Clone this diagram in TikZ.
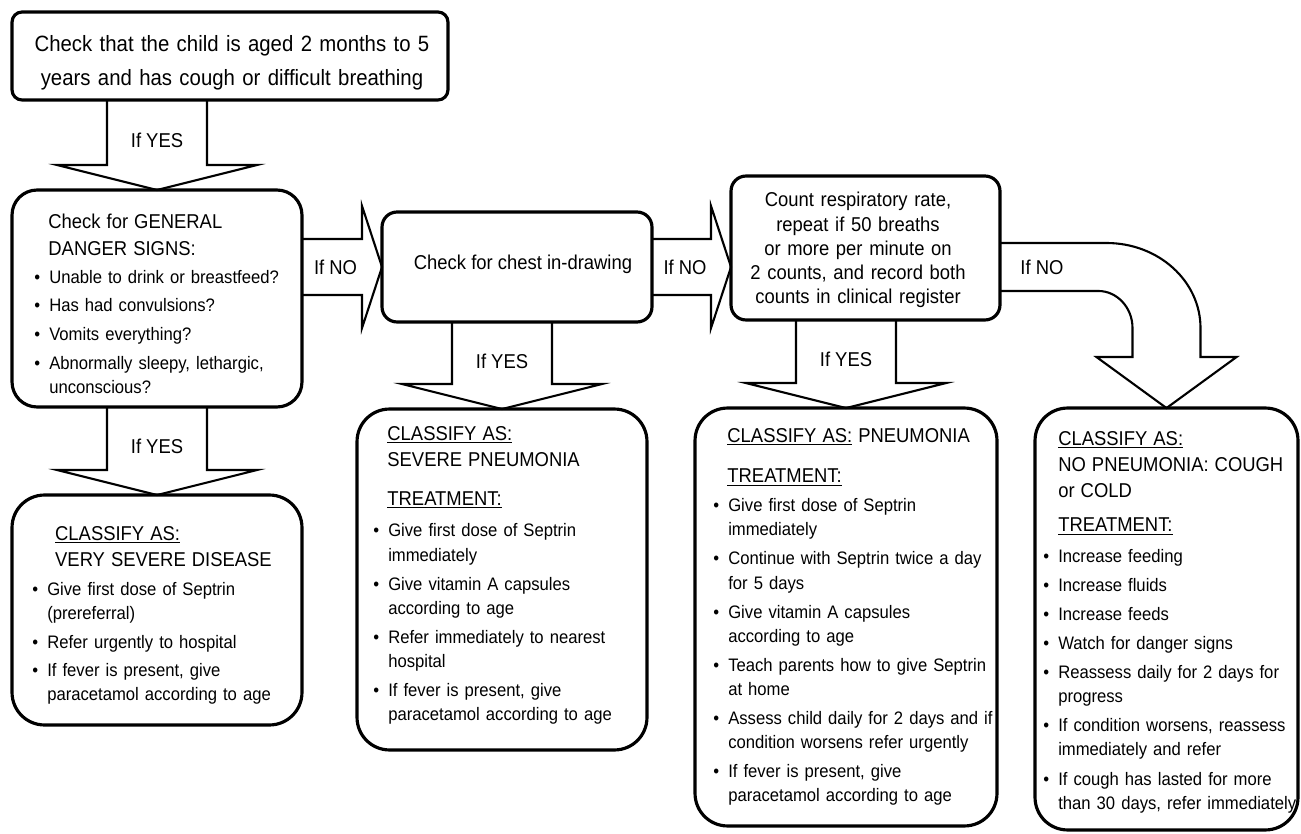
\documentclass[tikz,border=0pt]{standalone}
\usepackage{fontspec}
\setmainfont{Liberation Sans}[FakeStretch=0.92]
\usepackage{tikz}
\usetikzlibrary{calc}
\tikzset{box/.style={draw=black, line width=1.8pt, rounded corners=#1, inner sep=0pt, outer sep=0pt}}
\tikzset{blk/.style={draw=black, line width=1.2pt, line join=miter}}
\tikzset{lbl/.style={font=\fontsize{11.4}{12}\selectfont, inner sep=0pt}}
\tikzset{txt/.style={anchor=base west, inner sep=0pt, text width=6cm, align=left, font=\fontsize{10.3}{13.7}\selectfont}}
\tikzset{ctxt/.style={anchor=base, inner sep=0pt, align=center, font=\fontsize{11.4}{13.7}\selectfont}}
\newlength{\bulw}\setlength{\bulw}{8.5pt}
\newcommand{\hd}[2][\bulw]{{\leftskip=#1\fontsize{11.4}{14.8}\selectfont\noindent #2\par}}
\newcommand{\itm}[2][2.6pt]{\vskip#1{\hangindent=\bulw\hangafter=1\noindent\makebox[\bulw][l]{\textbullet}#2\par}}
% block arrow pointing down onto the target box
\newcommand{\downblock}[3]{%
  \coordinate (#1-o) at (#2.north |- #1.south);
  \draw[blk] ($(#1-o)+(-50,0)$) -- ($(#2.north)+(-50,-25)$) -- ($(#2.north)+(-100,-25)$) -- (#2.north)
    -- ($(#2.north)+(100,-25)$) -- ($(#2.north)+(50,-25)$) -- ($(#1-o)+(50,0)$);
  \path (#1-o) -- ($(#2.north)+(0,-25)$) node[lbl, midway, yshift=-4.5pt] (#1-l) {#3};
}
% block arrow pointing right
\newcommand{\rightblock}[3]{%
  \draw[blk] ($(#1)+(0,-28)$) -- ($(#2)+(-20,-28)$) -- ($(#2)+(-20,-61)$) -- (#2)
    -- ($(#2)+(-20,61)$) -- ($(#2)+(-20,28)$) -- ($(#1)+(0,28)$);
  \path (#1) -- ($(#2)+(-20,0)$) node[lbl, midway, xshift=2pt] (#1-l) {#3};
}

\begin{document}
\begin{tikzpicture}[x=0.02cm, y=-0.02cm]
  \fill[white] (0,0) rectangle (1301,834);
  \useasboundingbox (0,0) rectangle (1301,834);

  % boxes
  \node[box=0.2cm, minimum width=8.72cm, minimum height=1.76cm] at (230,56) (top) {};
  \node[box=0.5cm, minimum width=5.8cm, minimum height=4.34cm] at (157,298.5) (gds) {};
  \node[box=0.65cm, minimum width=5.8cm, minimum height=4.6cm] at (157,610) (vsd) {};
  \node[box=0.3cm, minimum width=5.4cm, minimum height=2.2cm] at (517,267) (chest) {};
  \node[box=0.65cm, minimum width=5.8cm, minimum height=6.82cm] at (502,579.5) (sp) {};
  \node[box=0.3cm, minimum width=5.38cm, minimum height=2.88cm] at (865.5,248) (rr) {};
  \node[box=0.65cm, minimum width=6.04cm, minimum height=8.36cm] at (846,617) (pn) {};
  \node[box=0.65cm, minimum width=5.26cm, minimum height=8.44cm] at (1166.5,619) (np) {};

  % texts
  \node[ctxt, text width=8.6cm, font=\fontsize{12.6}{18.8}\selectfont] at (232,52) (top-t)
    {Check that the child is aged 2 months to 5\\years and has cough or difficult breathing};
  \node[ctxt] at (523,270) (chest-t) {Check for chest in-drawing};
  \node[ctxt, text width=5cm] at (858,207) (rr-t)
    {Count respiratory rate,\\repeat if 50 breaths\\or more per minute on\\2 counts, and record both\\counts in clinical register};
  \node[txt] at (34,229) (gds-t) {%
    \hd[8pt]{Check for GENERAL\newline DANGER SIGNS:}
    \itm[2.3pt]{Unable to drink or breastfeed?}
    \itm{Has had convulsions?}
    \itm{Vomits everything?}
    \itm{Abnormally sleepy, lethargic,\newline unconscious?}};
  \node[txt] at (32,540) (vsd-t) {%
    \hd[13pt]{\underline{CLASSIFY AS:}\newline VERY SEVERE DISEASE}
    \itm[3pt]{Give first dose of Septrin\newline (prereferral)}
    \itm{Refer urgently to hospital}
    \itm{If fever is present, give\newline paracetamol according to age}};
  \node[txt] at (373,440) (sp-t) {%
    \hd[8pt]{\underline{CLASSIFY AS:}\newline SEVERE PNEUMONIA}
    \vskip7.4pt\hd[8pt]{\underline{TREATMENT:}}
    \itm[4.5pt]{Give first dose of Septrin\newline immediately}
    \itm[2.9pt]{Give vitamin A capsules\newline according to age}
    \itm[2.9pt]{Refer immediately to nearest\newline hospital}
    \itm[2.9pt]{If fever is present, give\newline paracetamol according to age}};
  \node[txt] at (713,442) (pn-t) {%
    \hd[8pt]{\underline{CLASSIFY AS:} PNEUMONIA}
    \vskip8.5pt\hd[8pt]{\underline{TREATMENT:}}
    \itm[2.8pt]{Give first dose of Septrin\newline immediately}
    \itm[2.8pt]{Continue with Septrin twice a day\newline for 5 days}
    \itm[2.8pt]{Give vitamin A capsules\newline according to age}
    \itm[2.8pt]{Teach parents how to give Septrin\newline at home}
    \itm[2.8pt]{Assess child daily for 2 days and if\newline condition worsens refer urgently}
    \itm[2.8pt]{If fever is present, give\newline paracetamol according to age}};
  \node[txt] at (1043,445) (np-t) {%
    \hd{\underline{CLASSIFY AS:}\newline NO PNEUMONIA: COUGH\newline or COLD}
    \vskip5.1pt\hd{\underline{TREATMENT:}}
    \itm[3.4pt]{Increase feeding}
    \itm[2.9pt]{Increase fluids}
    \itm[2.9pt]{Increase feeds}
    \itm[2.9pt]{Watch for danger signs}
    \itm[2.9pt]{Reassess daily for 2 days for\newline progress}
    \itm[2.9pt]{If condition worsens, reassess\newline immediately and refer}
    \itm[2.9pt]{If cough has lasted for more\newline than 30 days, refer immediately}};

  % down arrows
  \downblock{top}{gds}{If YES}
  \downblock{gds}{vsd}{If YES}
  \downblock{chest}{sp}{If YES}
  \downblock{rr}{pn}{If YES}

  % right arrows
  \coordinate (gds-r) at (gds.east |- chest.west);
  \coordinate (chest-r) at (chest.east);
  \coordinate (rr-in) at (rr.west |- chest.east);
  \rightblock{gds-r}{chest.west}{If NO}
  \rightblock{chest-r}{rr-in}{If NO}

  % bent arrow to the last box
  \coordinate (rr-o) at (rr.east |- chest.east);
  \coordinate (np-c) at (np.north |- rr-o);
  \draw[blk] ($(rr-o)+(0,-24)$) -- ($(np-c)+(-60,-24)$)
    .. controls ($(np-c)+(-8,-24)$) and ($(np.north)+(34,-127)$) .. ($(np.north)+(34,-80)$)
    -- ($(np.north)+(34,-51)$) -- ($(np.north)+(70,-51)$) -- (np.north) -- ($(np.north)+(-70,-51)$)
    -- ($(np.north)+(-34,-51)$) -- ($(np.north)+(-34,-80)$)
    .. controls ($(np.north)+(-34,-101)$) and ($(np-c)+(-50,24)$) .. ($(np-c)+(-68,24)$)
    -- ($(rr-o)+(0,24)$);
  \node[lbl] at ($(rr-o)+(42,0)$) (rr-l) {If NO};
\end{tikzpicture}
\end{document}
